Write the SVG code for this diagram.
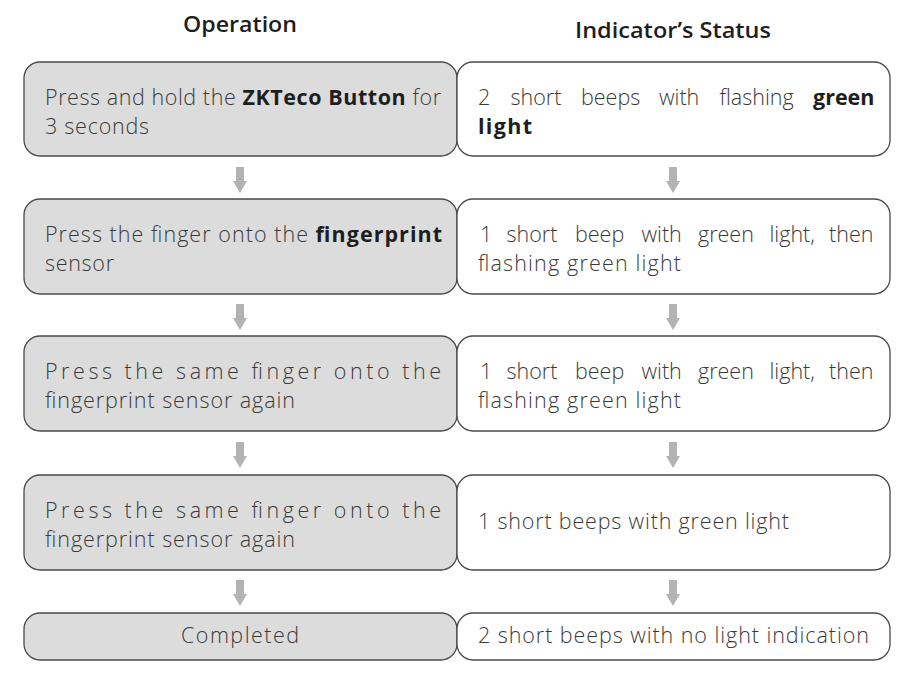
<svg xmlns="http://www.w3.org/2000/svg" width="906" height="692" viewBox="0 0 906 692">
<style>
.op{fill:#dcdcdc;stroke:#4a4a4a;stroke-width:1.3}
.st{fill:#ffffff;stroke:#4a4a4a;stroke-width:1.3}
text{font-family:"Open Sans","Liberation Sans",sans-serif;font-size:21.5px;fill:#3a3a3a;font-weight:300}
.b{font-weight:700;fill:#1e1e1e}
.h{font-weight:600;fill:#1e1e1e;font-size:22px;text-anchor:middle}
.arr{fill:#b3b3b3}
</style>
<defs>
<path id="ar" class="arr" d="M-4,0 H4 V14 H7 L0,26 L-7,14 H-4 Z"/>
</defs>
<rect width="906" height="692" fill="#ffffff"/>
<g id="headers">
<text class="h" x="240" y="32" textLength="114" lengthAdjust="spacingAndGlyphs">Operation</text>
<text class="h" x="673" y="38" textLength="196" lengthAdjust="spacingAndGlyphs">Indicator’s Status</text>
</g>
<g id="connectors">
<use href="#ar" x="240" y="167"/><use href="#ar" x="673" y="167"/>
<use href="#ar" x="240" y="304"/><use href="#ar" x="673" y="304"/>
<use href="#ar" x="240" y="442"/><use href="#ar" x="673" y="442"/>
<use href="#ar" x="240" y="580"/><use href="#ar" x="673" y="580"/>
</g>
<g id="op1">
<rect class="op" x="24" y="62" width="433" height="94" rx="16"/>
<text x="45" y="105" textLength="396" lengthAdjust="spacing">Press and hold the <tspan class="b">ZKTeco Button</tspan> for</text>
<text x="45" y="134" textLength="104" lengthAdjust="spacing">3 seconds</text>
</g>
<g id="st1">
<rect class="st" x="457" y="62" width="433" height="94" rx="16"/>
<text y="105"><tspan x="478">2</tspan><tspan x="510.5">short</tspan><tspan x="581">beeps</tspan><tspan x="659">with</tspan><tspan x="719.5">flashing</tspan><tspan x="813" class="b">green</tspan></text>
<text x="478" y="134" class="b" textLength="54" lengthAdjust="spacing">light</text>
</g>
<g id="op2">
<rect class="op" x="24" y="199" width="433" height="95" rx="16"/>
<text x="45" y="242" textLength="397" lengthAdjust="spacing">Press the finger onto the <tspan class="b">fingerprint</tspan></text>
<text x="45" y="271" textLength="69" lengthAdjust="spacing">sensor</text>
</g>
<g id="st2">
<rect class="st" x="457" y="199" width="433" height="95" rx="16"/>
<text y="242"><tspan x="480">1</tspan><tspan x="506.5">short</tspan><tspan x="575">beep</tspan><tspan x="641.5">with</tspan><tspan x="698">green</tspan><tspan x="769.5">light,</tspan><tspan x="829">then</tspan></text>
<text x="478" y="271" textLength="203" lengthAdjust="spacing">flashing green light</text>
</g>
<g id="op3">
<rect class="op" x="24" y="336" width="433" height="95" rx="16"/>
<text x="45" y="379" textLength="396" lengthAdjust="spacing">Press the same finger onto the</text>
<text x="45" y="408" textLength="250" lengthAdjust="spacing">fingerprint sensor again</text>
</g>
<g id="st3">
<rect class="st" x="457" y="336" width="433" height="95" rx="16"/>
<text y="379"><tspan x="480">1</tspan><tspan x="506.5">short</tspan><tspan x="575">beep</tspan><tspan x="641.5">with</tspan><tspan x="698">green</tspan><tspan x="769.5">light,</tspan><tspan x="829">then</tspan></text>
<text x="478" y="408" textLength="203" lengthAdjust="spacing">flashing green light</text>
</g>
<g id="op4">
<rect class="op" x="24" y="475" width="433" height="95" rx="16"/>
<text x="45" y="518" textLength="396" lengthAdjust="spacing">Press the same finger onto the</text>
<text x="45" y="547" textLength="250" lengthAdjust="spacing">fingerprint sensor again</text>
</g>
<g id="st4">
<rect class="st" x="457" y="475" width="433" height="95" rx="16"/>
<text x="478" y="529" textLength="311" lengthAdjust="spacing">1 short beeps with green light</text>
</g>
<g id="op5">
<rect class="op" x="24" y="613" width="433" height="47" rx="16"/>
<text x="240" y="643" text-anchor="middle" textLength="118" lengthAdjust="spacing">Completed</text>
</g>
<g id="st5">
<rect class="st" x="457" y="613" width="433" height="47" rx="16"/>
<text x="478" y="643" textLength="391" lengthAdjust="spacing">2 short beeps with no light indication</text>
</g>
</svg>
